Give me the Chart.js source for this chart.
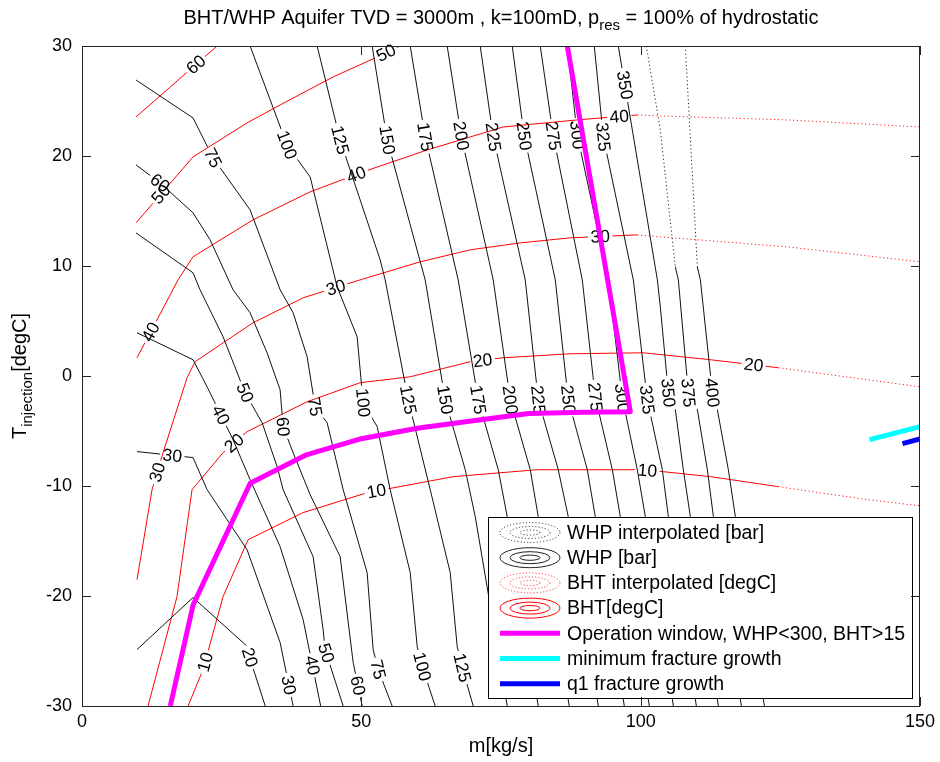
<!DOCTYPE html>
<html>
<head>
<meta charset="utf-8">
<title>BHT/WHP Aquifer TVD = 3000m</title>
<script src="https://cdn.jsdelivr.net/npm/chart.js@4/dist/chart.umd.min.js"></script>
<style>
  html, body { margin: 0; padding: 0; background: #fff; }
  canvas { display: block; }
</style>
</head>
<body>
<canvas id="chart" width="940" height="762"></canvas>
<script>
// ---- Wellhead pressure (WHP) contours [bar]: points are [m kg/s, T_injection degC] ----
const whp20  = [[9.85,-24.87],[19.88,-20.14],[29.4,-24.5],[30.9,-27.0],[32.8,-30]];
const whp30  = [[9.85,-6.87],[19.88,-7.42],[22.39,-10.33],[29.55,-15.79],[35.46,-24.23],[37.79,-30]];
const whp40  = [[9.85,3.93],[19.88,1.48],[22.39,-0.98],[27.04,-5.79],[30.09,-9.43],[35.46,-15.51],[39.58,-22.14],[42.72,-30]];
const whp50  = [[9.67,13.01],[19.88,9.38],[21.13,7.84],[25.25,3.57],[29.19,-1.52],[32.24,-4.25],[34.93,-8.24],[36.0,-10.33],[41.37,-16.42],[43.16,-23.05],[43.52,-24.87],[46.75,-30]];
const whp60  = [[9.67,19.19],[13.97,17.56],[19.88,14.83],[22.93,12.38],[27.04,7.84],[30.09,5.75],[33.13,2.11],[35.46,-1.25],[36.0,-4.61],[37.79,-6.97],[40.84,-10.79],[46.21,-16.42],[48.54,-26.05],[50.15,-30]];
const whp75  = [[9.67,26.91],[19.88,23.46],[23.46,19.83],[30.09,15.1],[35.46,7.84],[37.79,5.75],[40.3,1.75],[41.73,-2.79],[43.88,-4.25],[46.75,-10.33],[51.04,-17.87],[52.12,-24.87],[53.01,-26.69],[55.52,-30]];
const whp100 = [[30.09,30],[36.7,21.0],[40.84,18.1],[45.67,8.11],[49.25,3.57],[50.33,-2.43],[52.84,-4.61],[55.16,-10.33],[58.75,-17.87],[60.0,-24.59],[60.9,-26.42],[63.22,-30]];
const whp125 = [[42.09,30],[46.21,21.46],[53.37,10.56],[54.27,8.74],[58.39,-2.16],[62.33,-10.33],[65.91,-17.87],[67.16,-24.59],[68.06,-26.51],[70.03,-30]];
const whp150 = [[51.94,30],[54.63,21.46],[61.43,8.74],[65.01,-2.16],[68.6,-8.52],[70.39,-12.79],[76.12,-30]];
const whp175 = [[58.75,30],[61.43,21.74],[67.34,8.74],[70.93,-2.16],[74.51,-8.52],[76.12,-12.79],[81.67,-30]];
const whp200 = [[65.37,30],[67.88,21.83],[73.61,8.74],[76.66,-2.16],[80.24,-8.52],[81.67,-12.79],[87.22,-30]];
const whp225 = [[71.28,30],[73.61,21.74],[79.34,8.74],[81.67,-2.16],[85.25,-8.52],[87.04,-12.79],[92.42,-30]];
const whp250 = [[77.01,30],[79.16,21.83],[84.72,8.74],[87.04,-2.16],[90.45,-8.52],[91.88,-12.79],[97.07,-30]];
const whp275 = [[82.03,30],[84.36,21.83],[89.55,8.74],[91.88,-1.9],[94.93,-8.52],[96.36,-12.79],[101.55,-30]];
const whp300 = [[86.87,30],[88.66,21.92],[94.21,8.74],[96.72,-2.0],[99.4,-8.52],[100.84,-12.79],[105.85,-30]];
const whp325 = [[91.7,30],[93.31,21.74],[98.69,8.74],[101.19,-2.16],[103.88,-8.52],[104.96,-12.79],[109.97,-30]];
const whp350 = [[96.0,30],[102.99,8.74],[103.52,6.29],[104.96,-1.52],[106.21,-3.07],[107.64,-8.52],[108.9,-12.79],[113.91,-30]];
const whp375 = [[106.21,9.92],[106.75,8.74],[108.54,-1.52],[110.15,-3.07],[111.94,-8.52],[113.02,-12.79],[118.03,-30]];
const whp400 = [[110.15,9.92],[110.69,8.74],[112.84,-1.52],[113.73,-3.07],[115.7,-8.52],[116.96,-12.79],[122.15,-30]];
// interpolated WHP parts
const whp375i = [[101.02,30],[103.52,22.37],[106.21,9.92]];
const whp400i = [[108.0,30],[110.15,9.92]];

// ---- Bottom-hole temperature (BHT) contours [degC] ----
const bht10 = [[18.99,-30],[21.67,-26.69],[25.25,-20.05],[29.73,-14.88],[39.58,-12.42],[51.04,-10.61],[66.45,-9.15],[81.49,-8.52],[99.4,-8.52],[104.06,-8.7],[112.48,-9.15],[124.66,-10.06]];
const bht20 = [[11.82,-30],[17.01,-20.05],[19.7,-10.33],[25.25,-6.97],[29.55,-5.06],[40.3,-2.34],[49.79,-0.61],[58.75,-0.07],[69.49,1.3],[75.4,1.66],[87.4,2.02],[100.48,2.11],[112.48,1.48],[124.66,0.75]];
const bht30 = [[9.85,-18.51],[12.54,-10.33],[14.51,-6.97],[18.81,-0.16],[20.24,1.3],[30.63,4.84],[39.58,7.11],[49.79,8.74],[60.54,10.38],[69.49,11.47],[78.45,12.1],[87.4,12.56],[99.4,12.83]];
const bht40 = [[9.85,1.66],[17.19,8.74],[19.88,10.84],[30.63,14.2],[40.84,16.74],[50.33,18.56],[61.79,20.55],[75.4,22.64],[88.66,23.28],[99.4,23.73]];
const bht50 = [[9.67,13.92],[19.88,19.92],[29.55,23.01],[35.46,24.64],[44.96,27.19],[52.84,29.0],[56.96,30]];
const bht60 = [[9.67,23.55],[24.18,30]];
// interpolated BHT parts
const bht10i = [[124.66,-10.06],[140.6,-11.24],[150,-11.8]];
const bht20i = [[124.66,0.75],[150,-0.98]];
const bht30i = [[99.4,12.83],[103.52,12.65],[126.27,11.74],[150,10.38]];
const bht40i = [[99.4,23.73],[103.52,23.64],[126.27,23.28],[150,22.64]];

// ---- contour label anchors (snapped onto their contour) ----
const whpLabelAt = {
  20: [[29.9,-25.6]],
  30: [[16.1,-7.5],[36.0,-28.2]],
  40: [[24.18,-3.7],[40.3,-26.4]],
  50: [[29.19,-1.52],[43.6,-25.2]],
  60: [[13.97,17.56],[36.0,-4.61],[48.9,-28.2]],
  75: [[23.46,19.83],[41.73,-2.79],[53.01,-26.69]],
  100: [[36.7,21.0],[50.33,-2.43],[60.9,-26.42]],
  125: [[46.21,21.46],[58.39,-2.16],[68.06,-26.51]],
  150: [[54.63,21.46],[65.01,-2.16]],
  175: [[61.43,21.74],[70.93,-2.16]],
  200: [[67.88,21.83],[76.66,-2.16]],
  225: [[73.61,21.74],[81.67,-2.16]],
  250: [[79.16,21.83],[87.04,-2.16]],
  275: [[84.36,21.83],[91.88,-1.9]],
  300: [[88.66,21.92],[96.72,-2.0]],
  325: [[93.31,21.74],[101.19,-2.16]],
  350: [[96.6,26.4],[104.96,-1.52]],
  375: [[108.54,-1.52]],
  400: [[112.84,-1.52]]
};
const bhtLabelAt = {
  10: [[22.0,-26.0],[52.84,-10.8],[101.2,-8.6]],
  20: [[27.4,-6.2],[71.8,1.1],[120.2,0.9]],
  30: [[13.1,-8.7],[45.67,7.66],[92.78,12.4]],
  40: [[12.54,3.93],[49.25,18.1],[96.2,23.3]],
  50: [[13.97,16.6],[54.8,29.0]],
  60: [[20.6,28.2]]
};

// ---- operation window and fracture growth limits ----
const operationWindow = [[15.8,-30],[19.9,-20.8],[30.1,-9.75],[40.0,-7.2],[50.0,-5.7],[60.0,-4.75],[70.0,-4.07],[80.0,-3.4],[90.0,-3.3],[98.15,-3.25],[94.1,8.7],[86.87,30]];
const minFractureGrowth = [[140.96,-5.79],[150,-4.61]];
const q1FractureGrowth  = [[146.87,-6.15],[150,-5.73]];

// ---- axes ----
const xTicks = [0, 50, 100, 150];
const yTicks = [-30, -20, -10, 0, 10, 20, 30];

const whpSolid = {20:whp20,30:whp30,40:whp40,50:whp50,60:whp60,75:whp75,100:whp100,125:whp125,150:whp150,175:whp175,200:whp200,225:whp225,250:whp250,275:whp275,300:whp300,325:whp325,350:whp350,375:whp375,400:whp400};
const whpInterp = [whp375i, whp400i];
const bhtSolid = {10:bht10,20:bht20,30:bht30,40:bht40,50:bht50,60:bht60};
const bhtInterp = [bht10i, bht20i, bht30i, bht40i];

const FONT = '"Liberation Sans", Arial, Helvetica, sans-serif';
const LABEL_SIZE = 17.5;
const toXY = pts => pts.map(p => ({x: p[0], y: p[1]}));

const datasets = [];
function lineSet(label, pts, color, width, dash) {
  return { label, data: toXY(pts), borderColor: color, backgroundColor: color,
           borderWidth: width, borderDash: dash || [], showLine: true, pointRadius: 0,
           fill: false, tension: 0, borderCapStyle: 'butt', borderJoinStyle: 'round' };
}
// thick limit lines first so they are painted on top
datasets.push(lineSet('Operation window, WHP<300, BHT>15', operationWindow, '#ff00ff', 5));
datasets.push(lineSet('minimum fracture growth', minFractureGrowth, '#00ffff', 5));
datasets.push(lineSet('q1 fracture growth', q1FractureGrowth, '#0000ff', 5));
Object.keys(whpSolid).forEach(lv => {
  const d = lineSet('WHP ' + lv, whpSolid[lv], '#111111', 1);
  d.levelText = String(lv); d.labelAt = whpLabelAt[lv] || [];
  datasets.push(d);
});
whpInterp.forEach(p => datasets.push(lineSet('WHP interpolated', p, '#222222', 1, [1.2, 2.6])));
Object.keys(bhtSolid).forEach(lv => {
  const d = lineSet('BHT ' + lv, bhtSolid[lv], '#ff0000', 1);
  d.levelText = String(lv); d.labelAt = bhtLabelAt[lv] || [];
  datasets.push(d);
});
bhtInterp.forEach(p => datasets.push(lineSet('BHT interpolated', p, '#ff2020', 1, [1.2, 2.6])));

// contour labels: cut a gap in the contour and write its level along it
const labelBoxes = {};
const contourLabels = {
  id: 'contourLabels',
  beforeDatasetDraw(chart, args) {
    const ds = chart.data.datasets[args.index];
    if (!ds.labelAt || !ds.labelAt.length) return;
    const ctx = chart.ctx, xs = chart.scales.x, ys = chart.scales.y;
    const pts = ds.data.map(p => [xs.getPixelForValue(p.x), ys.getPixelForValue(p.y)]);
    ctx.save();
    ctx.font = LABEL_SIZE + 'px ' + FONT;
    const tw = ctx.measureText(ds.levelText).width;
    const boxes = ds.labelAt.map(a => {
      const ax = xs.getPixelForValue(a[0]), ay = ys.getPixelForValue(a[1]);
      let best = null;
      for (let i = 0; i < pts.length - 1; i++) {
        const [x1, y1] = pts[i], [x2, y2] = pts[i + 1];
        const dx = x2 - x1, dy = y2 - y1, L2 = dx * dx + dy * dy;
        let t = L2 ? ((ax - x1) * dx + (ay - y1) * dy) / L2 : 0;
        t = Math.max(0, Math.min(1, t));
        const px = x1 + t * dx, py = y1 + t * dy;
        const d = (px - ax) ** 2 + (py - ay) ** 2;
        if (!best || d < best.d) best = { d, px, py, ang: Math.atan2(dy, dx) };
      }
      let ang = best.ang;
      if (ang > Math.PI / 2) ang -= Math.PI;
      if (ang <= -Math.PI / 2) ang += Math.PI;
      return { x: best.px, y: best.py, ang, hw: tw / 2 + 2.5, hh: LABEL_SIZE * 0.42 };
    });
    labelBoxes[args.index] = { boxes, text: ds.levelText };
    ctx.beginPath();
    ctx.rect(0, 0, chart.width, chart.height);
    boxes.forEach(b => {
      const c = Math.cos(b.ang), s = Math.sin(b.ang);
      const cs = [[-b.hw, -b.hh], [-b.hw, b.hh], [b.hw, b.hh], [b.hw, -b.hh]]
        .map(([u, v]) => [b.x + u * c - v * s, b.y + u * s + v * c]);
      ctx.moveTo(cs[0][0], cs[0][1]);
      for (let k = 1; k < 4; k++) ctx.lineTo(cs[k][0], cs[k][1]);
      ctx.closePath();
    });
    ctx.clip('evenodd');
  },
  afterDatasetDraw(chart, args) {
    const info = labelBoxes[args.index];
    if (!info) return;
    const ctx = chart.ctx;
    ctx.restore();
    ctx.save();
    ctx.font = LABEL_SIZE + 'px ' + FONT;
    ctx.fillStyle = '#000';
    ctx.textAlign = 'center';
    ctx.textBaseline = 'middle';
    info.boxes.forEach(b => {
      ctx.save();
      ctx.translate(b.x, b.y);
      ctx.rotate(b.ang);
      ctx.fillText(info.text, 0, 1);
      ctx.restore();
    });
    ctx.restore();
  }
};

function drawRich(ctx, parts, x, y) {
  // parts: [text, size, baseline shift]; x is the centre
  let total = 0;
  parts.forEach(p => { ctx.font = p[1] + 'px ' + FONT; total += ctx.measureText(p[0]).width; });
  let cx = x - total / 2;
  parts.forEach(p => {
    ctx.font = p[1] + 'px ' + FONT;
    ctx.fillText(p[0], cx, y + p[2]);
    cx += ctx.measureText(p[0]).width;
  });
}

// legend, frame, ticks and titles
const frameAndLegend = {
  id: 'frameAndLegend',
  afterDatasetsDraw(chart) {
    const ctx = chart.ctx, ca = chart.chartArea;
    const w = 424, h = 181;
    const l = ca.right - 8 - w, t = ca.bottom - 8 - h;
    ctx.save();
    ctx.fillStyle = '#fff';
    ctx.fillRect(l, t, w, h);
    ctx.strokeStyle = '#000';
    ctx.lineWidth = 1;
    ctx.strokeRect(Math.round(l) + 0.5, Math.round(t) + 0.5, w, h);
    const rows = [
      ['WHP interpolated [bar]', 'ell', '#222', true],
      ['WHP [bar]', 'ell', '#222', false],
      ['BHT interpolated [degC]', 'ell', '#ff2020', true],
      ['BHT[degC]', 'ell', '#ff0000', false],
      ['Operation window, WHP<300, BHT>15', 'line', '#ff00ff'],
      ['minimum fracture growth', 'line', '#00ffff'],
      ['q1 fracture growth', 'line', '#0000ff']
    ];
    const cx = l + 42;
    rows.forEach((r, i) => {
      const cy = t + 15.5 + i * 25.2;
      if (r[1] === 'ell') {
        ctx.strokeStyle = r[2];
        ctx.lineWidth = 1;
        ctx.setLineDash(r[3] ? [1, 2.2] : []);
        [[30, 10], [20, 6], [10, 2.6]].forEach(([rx, ry]) => {
          ctx.beginPath();
          ctx.ellipse(cx, cy, rx, ry, 0, 0, Math.PI * 2);
          ctx.stroke();
        });
        ctx.setLineDash([]);
      } else {
        ctx.strokeStyle = r[2];
        ctx.lineWidth = 5;
        ctx.beginPath();
        ctx.moveTo(cx - 30, cy);
        ctx.lineTo(cx + 30, cy);
        ctx.stroke();
      }
      ctx.fillStyle = '#000';
      ctx.font = '19.5px ' + FONT;
      ctx.textAlign = 'left';
      ctx.textBaseline = 'middle';
      ctx.fillText(r[0], l + 79, cy + 1);
    });
    ctx.restore();
  },
  afterDraw(chart) {
    const ctx = chart.ctx, ca = chart.chartArea;
    const xs = chart.scales.x, ys = chart.scales.y;
    ctx.save();
    ctx.strokeStyle = '#262626';
    ctx.lineWidth = 1;
    ctx.strokeRect(Math.round(ca.left) + 0.5, Math.round(ca.top) + 0.5,
                   Math.round(ca.right - ca.left) - 1, Math.round(ca.bottom - ca.top));
    const tl = 9;
    ctx.beginPath();
    xTicks.forEach(v => {
      const px = Math.round(xs.getPixelForValue(v)) + 0.5;
      ctx.moveTo(px, ca.bottom); ctx.lineTo(px, ca.bottom - tl);
      ctx.moveTo(px, ca.top); ctx.lineTo(px, ca.top + tl);
    });
    yTicks.forEach(v => {
      const py = Math.round(ys.getPixelForValue(v)) + 0.5;
      ctx.moveTo(ca.left, py); ctx.lineTo(ca.left + tl, py);
      ctx.moveTo(ca.right, py); ctx.lineTo(ca.right - tl, py);
    });
    ctx.stroke();

    ctx.fillStyle = '#000';
    ctx.textAlign = 'left';
    ctx.textBaseline = 'alphabetic';
    const mid = (ca.left + ca.right) / 2;
    drawRich(ctx, [['BHT/WHP Aquifer TVD = 3000m , k=100mD, p', 20, 0], ['res', 15, 6], [' = 100% of hydrostatic', 20, 0]], mid, 24);
    drawRich(ctx, [['m[kg/s]', 20, 0]], mid, 752);
    ctx.save();
    ctx.translate(26, (ca.top + ca.bottom) / 2);
    ctx.rotate(-Math.PI / 2);
    drawRich(ctx, [['T', 20, 0], ['injection', 15, 6], ['[degC]', 20, 0]], 0, 0);
    ctx.restore();
    ctx.restore();
  }
};

new Chart(document.getElementById('chart'), {
  type: 'scatter',
  data: { datasets },
  options: {
    responsive: false,
    animation: false,
    devicePixelRatio: 1,
    events: [],
    layout: { padding: { top: 46, right: 20, bottom: 0, left: 0 } },
    plugins: { legend: { display: false }, tooltip: { enabled: false }, title: { display: false } },
    scales: {
      x: {
        type: 'linear', min: 0, max: 150,
        ticks: { stepSize: 50, color: '#000', font: { family: FONT, size: 18 }, padding: 5, maxRotation: 0 },
        grid: { display: false, drawTicks: false },
        border: { display: false },
        afterFit(s) { s.height = 56; }
      },
      y: {
        type: 'linear', min: -30, max: 30,
        ticks: { stepSize: 10, color: '#000', font: { family: FONT, size: 18 }, padding: 10 },
        grid: { display: false, drawTicks: false },
        border: { display: false },
        afterFit(s) { s.width = 82; }
      }
    }
  },
  plugins: [contourLabels, frameAndLegend]
});
</script>
</body>
</html>
